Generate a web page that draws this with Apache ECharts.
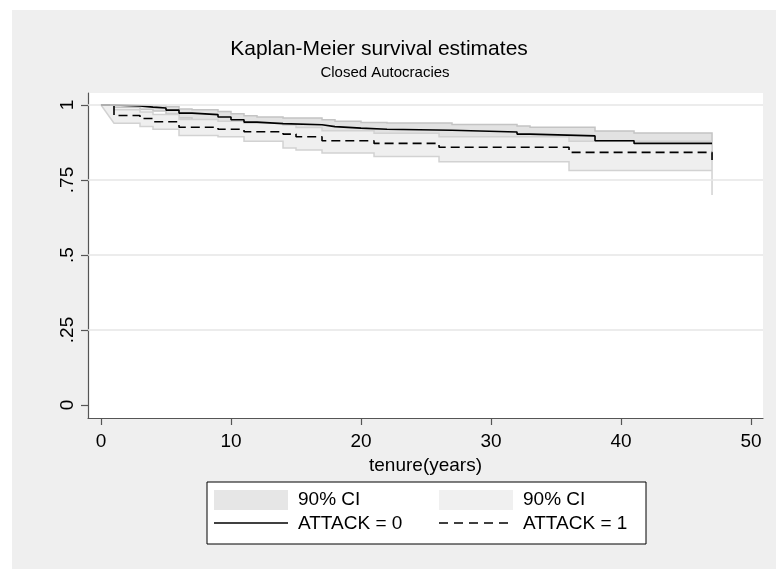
<!DOCTYPE html>
<html>
<head>
<meta charset="utf-8">
<script src="https://cdn.jsdelivr.net/npm/echarts@6/dist/echarts.min.js"></script>
<style>
html,body{margin:0;padding:0;background:#fff;}
#chart{width:776px;height:569px;}
</style>
</head>
<body>
<div id="chart"></div>
<script>
// ---- data ----
const times0 = [0,1,3,4,5,6,7,9,10,11,12,14,17,18,20,22,27,32,33,38,41,47];
const surv0  = [1,0.997,0.993,0.99,0.983,0.973,0.968,0.96,0.951,0.943,0.938,0.934,0.928,0.923,0.919,0.916,0.91,0.903,0.897,0.881,0.872,0.872];
const upper0 = [1,1.0,0.999,0.998,0.994,0.987,0.984,0.978,0.971,0.964,0.96,0.957,0.951,0.946,0.942,0.94,0.935,0.93,0.926,0.913,0.907,0.907];
const lower0 = [1,0.992,0.985,0.98,0.97,0.957,0.95,0.94,0.929,0.92,0.914,0.909,0.902,0.897,0.892,0.889,0.882,0.874,0.866,0.846,0.833,0.833];

const times1 = [0,1,3,4,6,9,11,14,15,17,21,26,36,47];
const surv1  = [1,0.965,0.955,0.944,0.926,0.919,0.911,0.903,0.894,0.881,0.872,0.859,0.842,0.817];
const upper1 = [1,0.984,0.977,0.968,0.952,0.946,0.939,0.933,0.925,0.914,0.906,0.894,0.879,0.87];
const lower1 = [1,0.939,0.928,0.919,0.898,0.894,0.879,0.857,0.85,0.84,0.828,0.811,0.782,0.70];

const xTicks = [0,10,20,30,40,50];
const yTicks = [0,0.25,0.5,0.75,1];
const yTickLabels = ['0','.25','.5','.75','1'];
const gridValues = [0.25,0.5,0.75,1];

const titleText = 'Kaplan-Meier survival estimates';
const subtitleText = 'Closed Autocracies';
const xAxisTitle = 'tenure(years)';
const legendLabels = ['90% CI','90% CI','ATTACK = 0','ATTACK = 1'];

// ---- helpers ----
const FONT = '"Liberation Sans", Arial, Helvetica, sans-serif';
function zip(a,b){return a.map((v,i)=>[v,b[i]]);}

function bandRenderer(T,U,L,fill,stroke){
  return function(params, api){
    const pts = [];
    pts.push(api.coord([T[0],U[0]]));
    for(let i=1;i<T.length;i++){
      pts.push(api.coord([T[i],U[i-1]]));
      pts.push(api.coord([T[i],U[i]]));
    }
    for(let i=T.length-1;i>=2;i--){
      pts.push(api.coord([T[i],L[i]]));
      pts.push(api.coord([T[i],L[i-1]]));
    }
    pts.push(api.coord([T[1],L[1]]));
    pts.push(api.coord([T[0],L[0]]));
    return {
      type:'polygon',
      shape:{points:pts},
      style:{fill:fill, stroke:stroke, lineWidth:1.5}
    };
  };
}

const chart = echarts.init(document.getElementById('chart'), null, {renderer:'canvas'});

const option = {
  backgroundColor:'#ffffff',
  animation:false,
  title:[
    {text:titleText, left:374, top:34, textAlign:'center',
     textStyle:{fontFamily:FONT, fontSize:21, fontWeight:'normal', color:'#000'}},
    {text:subtitleText, left:380, top:60, textAlign:'center',
     textStyle:{fontFamily:FONT, fontSize:15, fontWeight:'normal', color:'#000'}}
  ],
  grid:{left:88, right:13, top:93, bottom:151, show:true, backgroundColor:'#ffffff', borderWidth:0},
  xAxis:{
    type:'value', min:-1, max:50.92,
    name:xAxisTitle, nameLocation:'middle', nameGap:32,
    nameTextStyle:{fontFamily:FONT, fontSize:19, color:'#000'},
    axisLine:{show:true, onZero:false, lineStyle:{color:'#555', width:1.2}},
    axisTick:{show:true, length:7, customValues:xTicks, lineStyle:{color:'#555', width:1.2}},
    axisLabel:{customValues:xTicks, margin:14, fontFamily:FONT, fontSize:19, color:'#000'},
    splitLine:{show:false}
  },
  yAxis:{
    type:'value', min:-0.0433, max:1.04,
    axisLine:{show:true, onZero:false, lineStyle:{color:'#555', width:1.2}},
    axisTick:{show:true, length:7, customValues:yTicks, lineStyle:{color:'#555', width:1.2}},
    axisLabel:{customValues:yTicks, rotate:90, margin:11, fontFamily:FONT, fontSize:19, color:'#000',
      formatter:function(v){const i=yTicks.indexOf(v);return i>=0?yTickLabels[i]:'';}},
    splitLine:{show:false}
  },
  series:[
    {type:'line', data:[], z:0, silent:true,
     markLine:{silent:true, symbol:['none','none'], label:{show:false},
       lineStyle:{color:'#e6e6e6', width:1.5, type:'solid'},
       data:gridValues.map(v=>({yAxis:v}))}},
    {type:'custom', name:legendLabels[0], z:1, data:[[0,1]], silent:true,
     renderItem:bandRenderer(times0,upper0,lower0,'#e2e2e2','#c4c4c4')},
    {type:'custom', name:legendLabels[1], z:2, data:[[0,1]], silent:true,
     renderItem:bandRenderer(times1,upper1,lower1,'#efefef','#d2d2d2')},
    {type:'line', name:legendLabels[2], z:3, step:'end', symbol:'none',
     data:zip(times0,surv0), lineStyle:{color:'#000', width:1.6}},
    {type:'line', name:legendLabels[3], z:4, step:'end', symbol:'none',
     data:zip(times1,surv1), lineStyle:{color:'#000', width:1.6, type:[9,5]}}
  ],
  graphic:[
    {type:'rect', z:-10, silent:true, shape:{x:12,y:10,width:764,height:559}, style:{fill:'#efefef'}},
    {type:'group', z:10, children:[
      {type:'rect', shape:{x:207,y:482,width:439,height:62}, style:{fill:'#fff', stroke:'#000', lineWidth:1}},
      {type:'rect', shape:{x:214,y:490,width:74,height:20}, style:{fill:'#e6e6e6'}},
      {type:'rect', shape:{x:439,y:490,width:74,height:20}, style:{fill:'#f0f0f0'}},
      {type:'text', x:298, y:500, style:{text:legendLabels[0], fontFamily:FONT, fontSize:19, fill:'#000', verticalAlign:'middle'}},
      {type:'text', x:523, y:500, style:{text:legendLabels[1], fontFamily:FONT, fontSize:19, fill:'#000', verticalAlign:'middle'}},
      {type:'line', shape:{x1:214,y1:523,x2:288,y2:523}, style:{stroke:'#000', lineWidth:1.6}},
      {type:'line', shape:{x1:439,y1:523,x2:513,y2:523}, style:{stroke:'#000', lineWidth:1.6, lineDash:[9,6]}},
      {type:'text', x:298, y:524, style:{text:legendLabels[2], fontFamily:FONT, fontSize:19, fill:'#000', verticalAlign:'middle'}},
      {type:'text', x:523, y:524, style:{text:legendLabels[3], fontFamily:FONT, fontSize:19, fill:'#000', verticalAlign:'middle'}}
    ]}
  ]
};
chart.setOption(option);
</script>
</body>
</html>
